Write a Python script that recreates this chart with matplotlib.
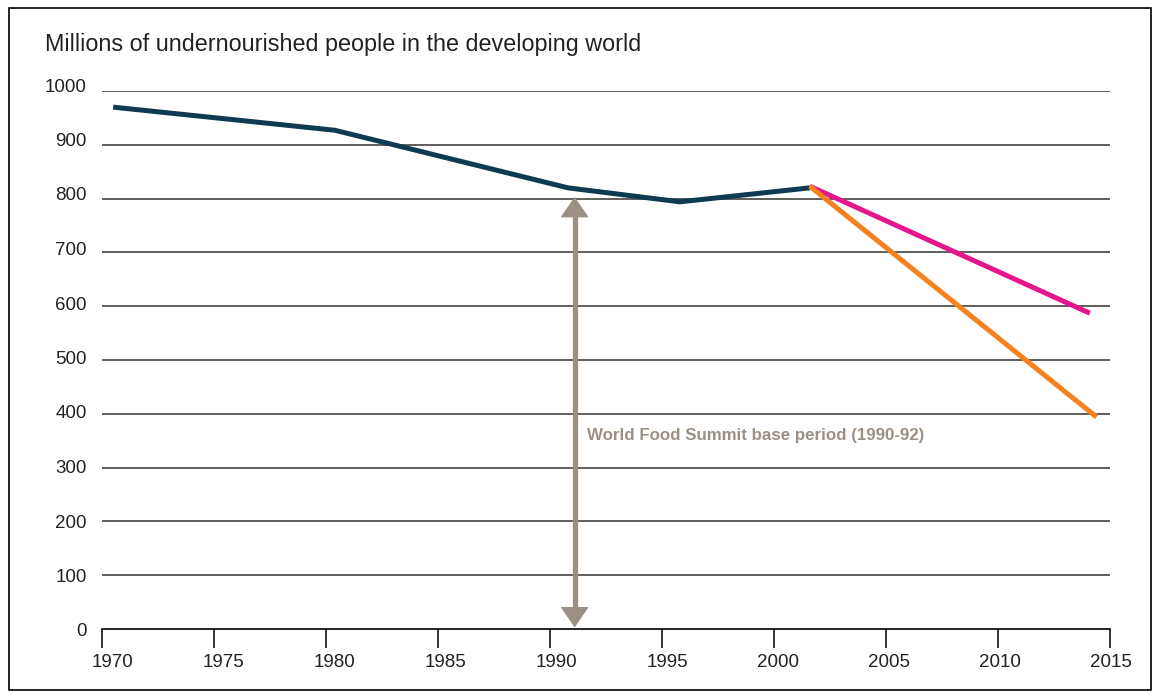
import numpy as np
import matplotlib
matplotlib.use('Agg')
import matplotlib.pyplot as plt
import matplotlib.transforms as mtransforms
from matplotlib.patches import Rectangle

plt.rcParams['font.family'] = ['Liberation Sans', 'DejaVu Sans']

# data
years = [1970.5, 1980.4, 1990.8, 1995.8, 2001.6]
undernourished = [970, 927, 820, 794, 820]

trend_years = [2001.6, 2014.1]
trend_values = [823, 587]

target_years = [2001.6, 2014.4]
target_values = [823, 394]

base_year = 1991.1
arrow_bottom, arrow_top = 3, 803
note_text = 'World Food Summit base period (1990-92)'
note_pos = (1991.65, 360)

xticks = np.arange(1970, 2016, 5)
yticks = np.arange(0, 1001, 100)

fig = plt.figure(figsize=(11.59, 6.98), dpi=100)
ax = fig.add_axes([102/1159, 69/698, 1008/1159, 538/698])

# outer frame
fig.patches.append(Rectangle((9/1159, 8/698), 1142/1159, 682/698, transform=fig.transFigure,
                             fill=False, edgecolor='black', linewidth=1.2))

for yv in yticks[1:]:
    ax.axhline(yv, color='#333333', linewidth=1.1, zorder=1)

ax.plot(years, undernourished, color='#0e3a52', linewidth=3.6, zorder=3, solid_capstyle='butt')
ax.plot(trend_years, trend_values, color='#e5168c', linewidth=3.6, zorder=3, solid_capstyle='butt')
ax.plot(target_years, target_values, color='#f5821f', linewidth=3.6, zorder=3, solid_capstyle='butt')

# double arrow: thin-edged heads plus a thick shaft between them
arrow_col = '#9c9084'
ax.annotate('', xy=(base_year, arrow_top), xytext=(base_year, arrow_bottom),
            arrowprops=dict(arrowstyle='<|-|>,head_length=0.68,head_width=0.47', color=arrow_col,
                            lw=0.8, shrinkA=0, shrinkB=0, mutation_scale=20), zorder=4)
ax.plot([base_year, base_year], [arrow_bottom + 30, arrow_top - 30], color=arrow_col,
        linewidth=3.8, solid_capstyle='butt', zorder=4)
ax.text(note_pos[0], note_pos[1], note_text, color=arrow_col, fontsize=12.2, fontweight='bold',
        va='center', ha='left')

ax.set_xlim(1970, 2015)
ax.set_ylim(0, 1000)
ax.set_xticks(xticks)
ax.set_yticks(yticks)
for s in ['top', 'right', 'left']:
    ax.spines[s].set_visible(False)
ax.spines['bottom'].set_linewidth(1.2)
ax.tick_params(axis='x', length=14, width=1.1, pad=4, labelsize=13.5, colors='black', labelcolor='#222222')
ax.tick_params(axis='y', length=0, pad=11, labelsize=13.5, labelcolor='#222222')

# the original's labels sit on a slightly different spacing than the ticks (offsets in px)
for i, lab in enumerate(ax.get_xticklabels()):
    dx = (10 - 9 * i / (len(xticks) - 1)) / 100
    lab.set_transform(lab.get_transform() + mtransforms.ScaledTranslation(dx, 0, fig.dpi_scale_trans))
for i, lab in enumerate(ax.get_yticklabels()):
    dy = (-1 + 7 * i / (len(yticks) - 1)) / 100
    lab.set_transform(lab.get_transform() + mtransforms.ScaledTranslation(0, dy, fig.dpi_scale_trans))

fig.text(45/1159, 1 - 44/698, 'Millions of undernourished people in the developing world',
         fontsize=16.8, color='#222222', va='center', ha='left')

fig.savefig('out.png', dpi=100)
